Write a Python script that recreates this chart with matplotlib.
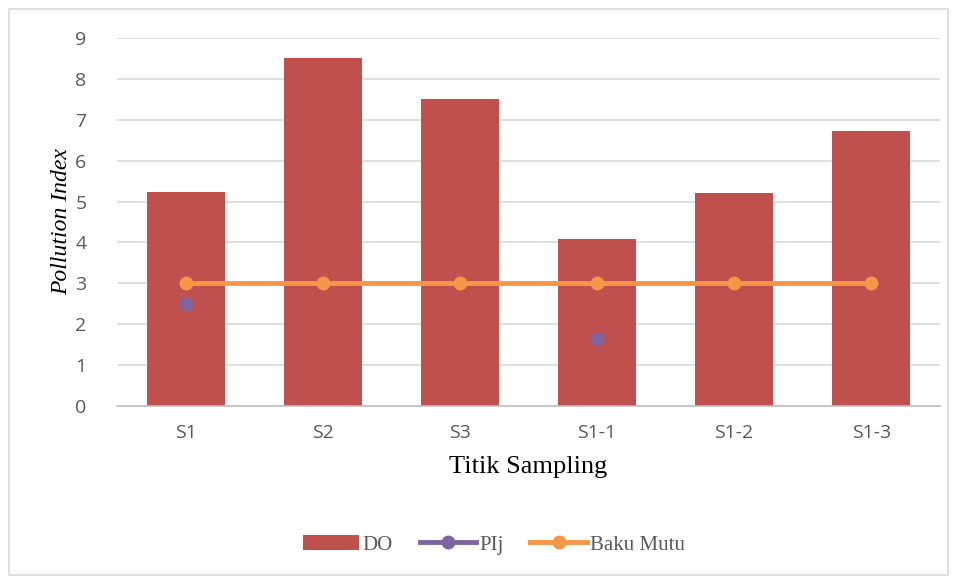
import numpy as np
import matplotlib
matplotlib.use("Agg")
from matplotlib import pyplot as plt
from matplotlib.patches import Rectangle

# data per sampling point
stations = ["S1", "S2", "S3", "S1-1", "S1-2", "S1-3"]
do_index = [5.23, 8.51, 7.51, 4.08, 5.21, 6.72]
pij = [2.49, np.nan, np.nan, 1.64, np.nan, np.nan]
baku_mutu = [3, 3, 3, 3, 3, 3]

bar_color = "#C0504D"
pij_color = "#8064A2"
bm_color = "#F79646"
tick_color = "#595959"

fig = plt.figure(figsize=(9.57, 5.76), dpi=100)
ax = fig.add_axes([0.1223, 0.2951, 0.8597, 0.6389])

x = np.arange(len(stations))
b = ax.bar(x, do_index, width=0.57, color=bar_color, label="DO", zorder=2)
l1, = ax.plot(x, pij, color=pij_color, lw=3.5, marker="o", ms=9,
              label="PIj", zorder=4)
l2, = ax.plot(x, baku_mutu, color=bm_color, lw=3.5, marker="o", ms=9,
              label="Baku Mutu", zorder=3)

ax.set_xlim(-0.5, len(stations) - 0.5)
ax.set_ylim(0, 9)
ax.set_yticks(range(10))
ax.set_xticks(x)
ax.set_xticklabels(stations)
ax.grid(axis="y", color="#D9D9D9", lw=1.2, zorder=0)
for s in ["top", "right", "left"]:
    ax.spines[s].set_visible(False)
ax.spines["bottom"].set_color("#BFBFBF")
ax.spines["bottom"].set_linewidth(1.2)
ax.tick_params(length=0, labelsize=14, colors=tick_color, pad=13)
for lab in ax.get_xticklabels() + ax.get_yticklabels():
    lab.set_fontfamily("Open Sans")
ax.tick_params(axis="y", pad=22)

ax.set_xlabel("Titik Sampling", fontfamily="Liberation Serif", fontsize=19,
              labelpad=10)
ax.set_ylabel("Pollution Index", fontfamily="Liberation Serif", fontsize=17,
              fontstyle="italic", labelpad=2)

leg = fig.legend([b, l1, l2], ["DO", "PIj", "Baku Mutu"], loc="center",
                 bbox_to_anchor=(0.516, 0.054), ncol=3,
                 frameon=False, handlelength=2.7, handletextpad=0.15,
                 columnspacing=1.3,
                 prop={"family": "Liberation Serif", "size": 15})
for t in leg.get_texts():
    t.set_color(tick_color)

# chart border
fig.patches.append(Rectangle((9 / 957, 0.002), 939 / 957, 1 - 0.002 - 9 / 576,
                             transform=fig.transFigure, fill=False,
                             edgecolor="#D9D9D9", lw=1.2))

fig.savefig("out.png", dpi=100)
